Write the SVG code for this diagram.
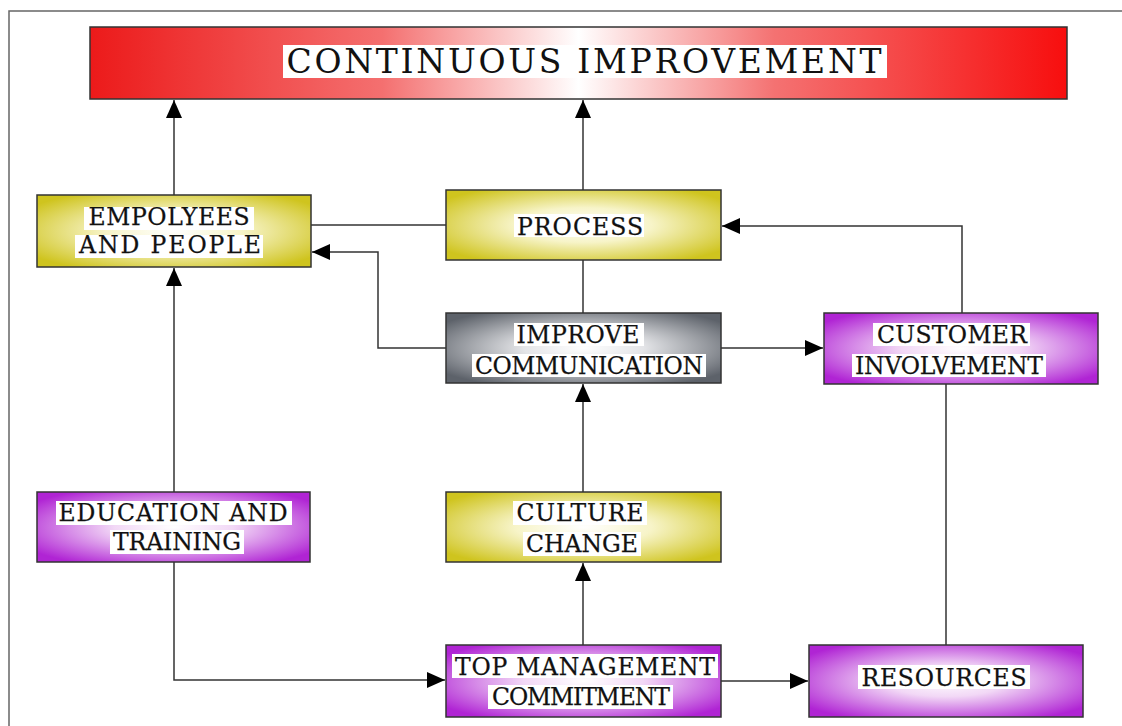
<svg xmlns="http://www.w3.org/2000/svg" width="1122" height="726" viewBox="0 0 1122 726">
<defs>
<linearGradient id="gRed" x1="0" y1="0" x2="1" y2="0">
<stop offset="0" stop-color="#ec1a1a"/>
<stop offset="0.3" stop-color="#f47070"/>
<stop offset="0.5" stop-color="#ffffff"/>
<stop offset="0.7" stop-color="#f47272"/>
<stop offset="1" stop-color="#f70e0e"/>
</linearGradient>
<radialGradient id="gYel" cx="0.5" cy="0.5" r="0.62">
<stop offset="0" stop-color="#ffffff"/>
<stop offset="0.4" stop-color="#f7f4c8"/>
<stop offset="1" stop-color="#cfc41e"/>
</radialGradient>
<radialGradient id="gPur" cx="0.5" cy="0.5" r="0.62">
<stop offset="0" stop-color="#ffffff"/>
<stop offset="0.35" stop-color="#f2d8f6"/>
<stop offset="1" stop-color="#b024d4"/>
</radialGradient>
<radialGradient id="gGry" cx="0.5" cy="0.5" r="0.62">
<stop offset="0" stop-color="#ffffff"/>
<stop offset="0.35" stop-color="#e4e5e8"/>
<stop offset="1" stop-color="#5d626a"/>
</radialGradient>
<marker id="arr" markerUnits="userSpaceOnUse" markerWidth="20" markerHeight="18" refX="18" refY="8" orient="auto">
<path d="M0,0 L18,8 L0,16 z" fill="#000"/>
</marker>
<style>
.box{stroke:#333;stroke-width:1.5}
.bg{fill:#fff}
.t{font-family:"DejaVu Serif","Liberation Serif",serif;font-size:23.5px;fill:#111;text-anchor:middle;stroke:#111;stroke-width:0.25}
.title{font-family:"DejaVu Serif","Liberation Serif",serif;font-size:33px;fill:#111;text-anchor:middle}
.c{fill:none;stroke:#333;stroke-width:1.5}
.a{marker-end:url(#arr)}
</style>
</defs>
<rect x="0" y="0" width="1122" height="726" fill="#fff"/>
<rect x="9" y="11" width="1130" height="730" fill="none" stroke="#666" stroke-width="1.5"/>

<g id="connectors">
<path class="c a" d="M174,195 V100"/>
<path class="c a" d="M583,190 V100"/>
<path class="c" d="M311,225 H446"/>
<path class="c a" d="M446,348 H378 V252 H312"/>
<path class="c" d="M583,260 V313"/>
<path class="c a" d="M721,348 H823"/>
<path class="c a" d="M962,313 V226 H722"/>
<path class="c" d="M946,384 V645"/>
<path class="c a" d="M174,492 V268"/>
<path class="c a" d="M174,562 V680 H445"/>
<path class="c a" d="M583,645 V563"/>
<path class="c a" d="M583,492 V384"/>
<path class="c a" d="M721,681 H808"/>
</g>

<g id="title">
<rect class="box" x="90" y="27" width="977" height="72" fill="url(#gRed)"/>
<rect class="bg" x="283" y="45" width="604" height="33"/>
<text class="title" x="584" y="73" textLength="595" lengthAdjust="spacing">CONTINUOUS IMPROVEMENT</text>
</g>

<g id="employees">
<rect class="box" x="37" y="195" width="274" height="72" fill="url(#gYel)"/>
<rect class="bg" x="84" y="207" width="170" height="23"/>
<rect class="bg" x="75" y="235" width="188" height="23"/>
<text class="t" x="169" y="225" textLength="161" lengthAdjust="spacing">EMPOLYEES</text>
<text class="t" x="170" y="253" textLength="182" lengthAdjust="spacing">AND PEOPLE</text>
</g>

<g id="process">
<rect class="box" x="446" y="190" width="275" height="70" fill="url(#gYel)"/>
<rect class="bg" x="514" y="214" width="130" height="23"/>
<text class="t" x="580" y="235" textLength="126" lengthAdjust="spacing">PROCESS</text>
</g>

<g id="improve">
<rect class="box" x="446" y="313" width="275" height="70" fill="url(#gGry)"/>
<rect class="bg" x="514" y="323" width="130" height="23"/>
<rect class="bg" x="472" y="354" width="234" height="23"/>
<text class="t" x="578" y="343" textLength="123" lengthAdjust="spacing">IMPROVE</text>
<text class="t" x="589" y="374" textLength="228" lengthAdjust="spacing">COMMUNICATION</text>
</g>

<g id="customer">
<rect class="box" x="824" y="313" width="274" height="71" fill="url(#gPur)"/>
<rect class="bg" x="873" y="323" width="157" height="23"/>
<rect class="bg" x="852" y="354" width="194" height="23"/>
<text class="t" x="952" y="343" textLength="150" lengthAdjust="spacing">CUSTOMER</text>
<text class="t" x="949" y="374" textLength="188" lengthAdjust="spacing">INVOLVEMENT</text>
</g>

<g id="education">
<rect class="box" x="37" y="492" width="273" height="70" fill="url(#gPur)"/>
<rect class="bg" x="56" y="501" width="236" height="24"/>
<rect class="bg" x="110" y="530" width="134" height="24"/>
<text class="t" x="173" y="521" textLength="229" lengthAdjust="spacing">EDUCATION AND</text>
<text class="t" x="177" y="550" textLength="128" lengthAdjust="spacing">TRAINING</text>
</g>

<g id="culture">
<rect class="box" x="446" y="492" width="275" height="70" fill="url(#gYel)"/>
<rect class="bg" x="513" y="501" width="134" height="24"/>
<rect class="bg" x="523" y="532" width="118" height="24"/>
<text class="t" x="580" y="521" textLength="127" lengthAdjust="spacing">CULTURE</text>
<text class="t" x="582" y="552" textLength="112" lengthAdjust="spacing">CHANGE</text>
</g>

<g id="topmgmt">
<rect class="box" x="446" y="645" width="275" height="72" fill="url(#gPur)"/>
<rect class="bg" x="452" y="654" width="266" height="24"/>
<rect class="bg" x="488" y="685" width="185" height="24"/>
<text class="t" x="585" y="675" textLength="260" lengthAdjust="spacing">TOP MANAGEMENT</text>
<text class="t" x="581" y="705" textLength="178" lengthAdjust="spacing">COMMITMENT</text>
</g>

<g id="resources">
<rect class="box" x="809" y="645" width="274" height="72" fill="url(#gPur)"/>
<rect class="bg" x="858" y="665" width="172" height="24"/>
<text class="t" x="944" y="686" textLength="165" lengthAdjust="spacing">RESOURCES</text>
</g>
</svg>
